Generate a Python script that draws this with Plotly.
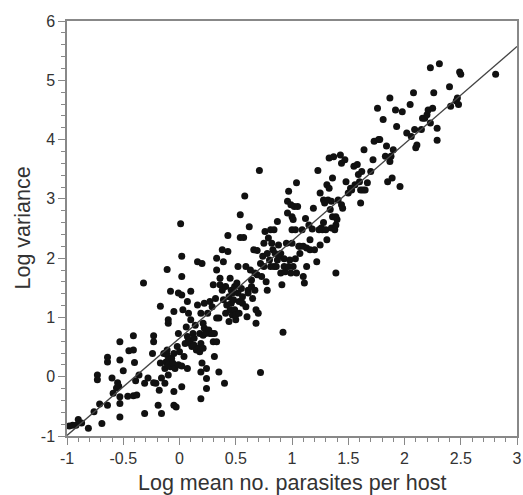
import plotly.graph_objects as go

log_mean = [
    -1.01, -1.01, -1.01, -1.01, -0.98, -0.95, -0.92, -0.90, -0.87, -0.81, -0.76, -0.71, -0.69,
    -0.73, -0.73, -0.64, -0.64, -0.64, -0.60, -0.59, -0.56, -0.55, -0.54, -0.53, -0.53, -0.53,
    -0.53, -0.53, -0.50, -0.46, -0.45, -0.41, -0.41, -0.40, -0.41, -0.38, -0.39, -0.36, -0.32,
    -0.31, -0.31, -0.28, -0.24, -0.23, -0.23, -0.23, -0.21, -0.19, -0.18, -0.17, -0.17, -0.16,
    -0.16, -0.14, -0.13, -0.13, -0.12, -0.11, -0.11, -0.11, -0.10, -0.10, -0.10, -0.10, -0.10,
    -0.08, -0.08, -0.07, -0.06, -0.05, -0.05, -0.05, -0.05, -0.04, -0.03, -0.02, -0.01, -0.01,
    -0.01, 0.00, 0.01, 0.02, 0.02, 0.02, 0.02, 0.02, 0.03, 0.04, 0.05, 0.06, 0.07, 0.07, 0.07,
    0.08, 0.08, 0.10, 0.10, 0.10, 0.11, 0.12, 0.13, 0.13, 0.14, 0.15, 0.16, 0.16, 0.17, 0.18,
    0.18, 0.19, 0.19, 0.19, 0.19, 0.20, 0.20, 0.21, 0.21, 0.21, 0.22, 0.22, 0.23, 0.24, 0.24,
    0.24, 0.25, 0.26, 0.27, 0.27, 0.29, 0.29, 0.30, 0.30, 0.31, 0.31, 0.32, 0.33, 0.33, 0.33,
    0.33, 0.35, 0.35, 0.36, 0.36, 0.38, 0.38, 0.39, 0.39, 0.40, 0.41, 0.41, 0.42, 0.43, 0.43,
    0.44, 0.44, 0.45, 0.45, 0.46, 0.46, 0.47, 0.47, 0.48, 0.49, 0.49, 0.50, 0.50, 0.51, 0.52,
    0.52, 0.53, 0.53, 0.54, 0.54, 0.55, 0.56, 0.56, 0.57, 0.58, 0.59, 0.59, 0.60, 0.61, 0.61,
    0.62, 0.63, 0.64, 0.64, 0.65, 0.66, 0.67, 0.67, 0.68, 0.68, 0.69, 0.69, 0.70, 0.71, 0.72,
    0.72, 0.73, 0.74, 0.75, 0.75, 0.76, 0.77, 0.78, 0.78, 0.79, 0.80, 0.81, 0.81, 0.82, 0.83,
    0.84, 0.84, 0.85, 0.86, 0.87, 0.87, 0.88, 0.89, 0.90, 0.90, 0.91, 0.92, 0.93, 0.93, 0.94,
    0.95, 0.96, 0.96, 0.97, 0.97, 0.98, 0.99, 0.99, 1.00, 1.00, 1.00, 1.01, 1.01, 1.02, 1.03,
    1.03, 1.04, 1.04, 1.05, 1.06, 1.07, 1.07, 1.09, 1.10, 1.10, 1.11, 1.12, 1.13, 1.13, 1.15,
    1.16, 1.16, 1.18, 1.19, 1.20, 1.22, 1.23, 1.24, 1.25, 1.25, 1.26, 1.27, 1.28, 1.28, 1.29,
    1.30, 1.31, 1.31, 1.32, 1.33, 1.33, 1.34, 1.35, 1.35, 1.36, 1.36, 1.37, 1.38, 1.39, 1.39,
    1.39, 1.40, 1.41, 1.43, 1.44, 1.44, 1.45, 1.47, 1.48, 1.50, 1.52, 1.53, 1.55, 1.56, 1.58,
    1.59, 1.60, 1.61, 1.61, 1.62, 1.63, 1.64, 1.65, 1.67, 1.70, 1.72, 1.73, 1.76, 1.77, 1.78,
    1.81, 1.83, 1.84, 1.85, 1.87, 1.87, 1.88, 1.89, 1.90, 1.92, 1.93, 1.96, 1.98, 2.02, 2.05,
    2.06, 2.08, 2.09, 2.10, 2.11, 2.15, 2.16, 2.18, 2.20, 2.21, 2.23, 2.23, 2.25, 2.26, 2.29,
    2.29, 2.31, 2.40, 2.41, 2.46, 2.47, 2.48, 2.49, 2.50, 2.81,
]

log_variance = [
    0.69, -0.45, -0.65, -0.82, -0.83, -0.82, -0.82, -0.72, -0.78, -0.87, -0.59, -0.46, -0.79,
    0.03, -0.05, 0.33, 0.25, -0.48, -0.02, -0.28, -0.19, -0.10, -0.16, 0.59, 0.28, -0.45,
    -0.34, -0.68, 0.10, -0.33, 0.44, 0.45, 0.69, 0.24, -0.32, -0.31, -0.07, 0.03, 1.58,
    -0.11, -0.62, -0.02, 0.39, 0.69, 0.59, -0.10, -0.11, -0.48, -0.23, 1.19, 0.23, -0.02,
    -0.62, 0.39, -0.11, 0.14, 0.25, 0.37, 0.45, 1.81, 0.90, 0.96, 0.28, 0.20, 0.03,
    1.44, 0.17, 0.31, 0.23, 0.39, -0.25, -0.48, 1.10, 0.14, -0.51, 0.51, 0.20, 0.73,
    1.41, 0.42, 2.58, 2.03, 1.69, 1.38, 0.18, -0.17, 1.13, 0.34, 0.56, 0.84, 1.27, 0.68, 0.14,
    1.07, 0.62, 1.44, 0.56, 0.96, 0.51, 0.73, 0.65, 0.53, 0.87, 0.45, 1.94, 1.21, 0.48, 0.73,
    0.42, 1.07, 0.56, -0.37, 0.08, 0.23, 1.91, 0.90, 0.70, 0.48, 1.24, 0.82, 0.73, -0.20, 0.14,
    -0.03, 1.07, 0.79, 1.27, 0.73, 0.73, 1.18, 1.55, 0.59, 0.73, 0.34, 1.32, 2.00, 0.99, 0.59,
    1.80, 0.08, 0.99, 1.66, 1.55, 1.46, 2.14, 1.30, 1.94, -0.11, 1.52, 1.07, 1.21, 2.38, 2.11,
    1.35, 0.93, 1.66, 1.13, 1.46, 1.24, 1.41, 1.04, 1.30, 1.52, 1.13, 0.96, 1.04, 1.58, 1.86,
    1.41, 1.27, 1.07, 2.73, 2.35, 1.49, 1.24, 1.35, 2.35, 3.05, 1.86, 1.18, 1.01, 1.46, 1.41,
    2.53, 1.80, 1.52, 1.63, 1.32, 2.14, 1.75, 1.46, 0.90, 1.13, 2.13, 1.72, 1.07, 3.48, 1.91,
    0.07, 1.69, 2.03, 2.25, 1.86, 2.45, 1.60, 1.46, 2.08, 2.34, 1.97, 2.48, 1.86, 2.25, 2.14,
    1.86, 2.48, 2.08, 1.86, 2.62, 1.97, 2.22, 2.03, 1.75, 2.08, 1.55, 0.75, 1.86, 1.99, 1.77,
    2.25, 2.76, 2.96, 3.13, 1.86, 1.97, 1.75, 2.90, 2.48, 2.70, 2.25, 2.65, 1.86, 2.87, 2.48,
    1.99, 3.27, 1.75, 2.87, 2.20, 2.08, 2.20, 2.48, 1.69, 2.20, 1.58, 2.67, 2.17, 1.86, 2.56,
    2.14, 2.31, 2.49, 2.84, 2.14, 1.94, 3.48, 2.48, 3.10, 2.22, 2.51, 2.48, 2.60, 2.98, 2.93,
    2.48, 2.31, 3.24, 2.98, 3.18, 3.69, 2.82, 2.51, 2.96, 3.35, 2.70, 3.71, 2.48, 1.75, 2.70,
    2.56, 2.65, 2.98, 3.74, 2.90, 3.60, 2.84, 3.66, 3.29, 3.10, 3.18, 3.15, 3.55, 3.24, 3.58,
    3.41, 3.29, 2.93, 3.15, 3.46, 3.15, 3.83, 3.15, 3.27, 3.46, 3.66, 3.97, 4.53, 4.00, 4.00,
    4.34, 3.72, 3.89, 3.29, 3.63, 4.70, 3.72, 3.35, 3.83, 4.50, 4.22, 3.21, 4.47, 4.11, 4.59,
    4.05, 4.79, 4.17, 3.86, 3.91, 4.17, 4.36, 4.36, 4.42, 4.50, 5.21, 4.28, 4.53, 4.79, 4.19,
    3.99, 5.28, 4.89, 4.56, 4.65, 4.70, 4.59, 5.14, 5.10, 5.10,
]

fit_slope = 1.64
fit_intercept = 0.65
fit_x = [-1, 3]
fit_y = [fit_intercept + fit_slope * v for v in fit_x]

x_tick_vals = [-1, -0.5, 0, 0.5, 1, 1.5, 2, 2.5, 3]
x_tick_text = ["-1", "-0.5", "0", "0.5", "1", "1.5", "2", "2.5", "3"]
y_tick_vals = [-1, 0, 1, 2, 3, 4, 5, 6]
y_tick_text = ["-1", "0", "1", "2", "3", "4", "5", "6"]

x_title = "Log mean no. parasites per host"
y_title = "Log variance"

fig = go.Figure()
fig.add_trace(go.Scatter(
    x=log_mean, y=log_variance, mode="markers",
    marker=dict(color="#111111", size=7, line=dict(width=0)),
    showlegend=False, cliponaxis=False,
))
fig.add_trace(go.Scatter(
    x=fit_x, y=fit_y, mode="lines",
    line=dict(color="#444444", width=1.3),
    showlegend=False,
))

font_family = "Liberation Sans, Arial, sans-serif"
axis_common = dict(
    showgrid=False, zeroline=False, showline=True, mirror=True,
    linecolor="#888888", linewidth=1.5,
    ticks="outside", ticklen=7, tickwidth=1.2, tickcolor="#888888",
    tickfont=dict(family=font_family, size=16, color="#333333"),
    automargin=False,
)

fig.update_layout(
    width=523, height=495,
    margin=dict(l=67, r=6, t=21, b=59),
    paper_bgcolor="white", plot_bgcolor="white",
    xaxis=dict(
        range=[-1, 3], tickmode="array", tickvals=x_tick_vals, ticktext=x_tick_text,
        minor=dict(tickmode="linear", tick0=-1, dtick=0.1, ticklen=4,
                   tickwidth=1, tickcolor="#888888", ticks="outside", showgrid=False),
        **axis_common,
    ),
    yaxis=dict(
        range=[-1, 6], tickmode="array", tickvals=y_tick_vals, ticktext=y_tick_text,
        minor=dict(tickmode="linear", tick0=-1, dtick=0.2, ticklen=4,
                   tickwidth=1, tickcolor="#888888", ticks="outside", showgrid=False),
        **axis_common,
    ),
    annotations=[
        dict(text=x_title, xref="paper", yref="paper", x=0.5, y=0.0,
             yshift=-47, xanchor="center", yanchor="middle", showarrow=False,
             font=dict(family=font_family, size=21.5, color="#333333")),
        dict(text=y_title, xref="paper", yref="paper", x=0, y=0.5,
             xshift=-45, textangle=-90, xanchor="center", yanchor="middle", showarrow=False,
             font=dict(family=font_family, size=21.5, color="#333333")),
    ],
)

fig.write_html(
    "out.html",
    config={"displayModeBar": False},
    post_script="document.body.style.margin='0';document.body.style.padding='0';document.body.style.overflow='hidden';",
)
